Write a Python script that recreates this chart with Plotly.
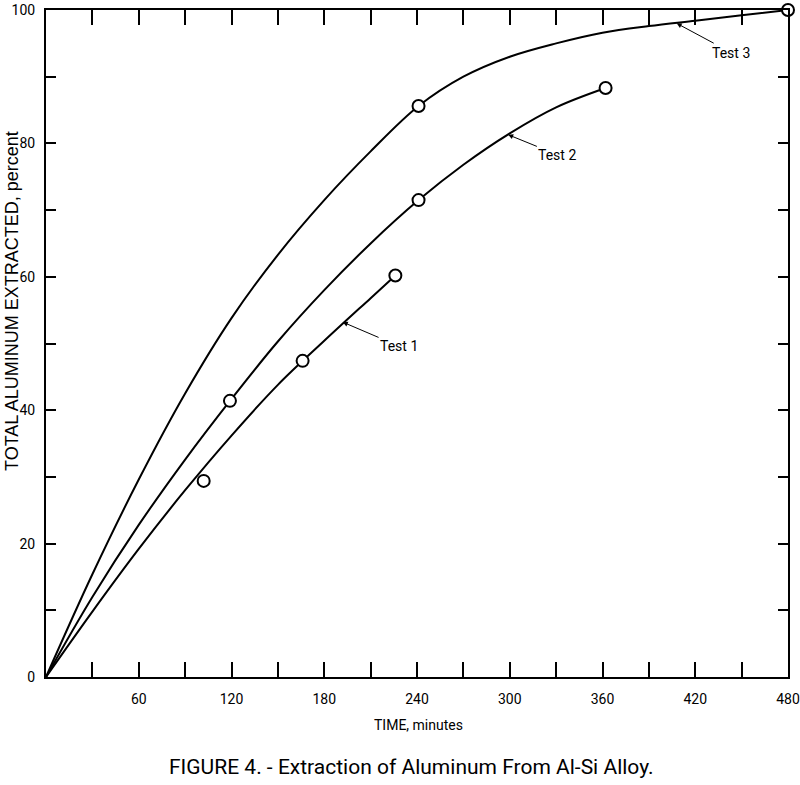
import plotly.graph_objects as go

# Measured circles (time, percent)
t1_pts_t = [102, 166, 226]
t1_pts_p = [29.4, 47.4, 60.2]
t2_pts_t = [119, 241, 362]
t2_pts_p = [41.4, 71.5, 88.3]
t3_pts_t = [241, 480]
t3_pts_p = [85.6, 100]

# Smooth curves
t1_curve_t = [0, 30, 60, 90, 120, 150, 180, 210, 226]
t1_curve_p = [0, 9.8, 19.2, 28.0, 36.2, 43.8, 50.4, 56.8, 60.2]
t2_curve_t = [0, 30, 60, 90, 119, 150, 180, 210, 241, 270, 300, 330, 362]
t2_curve_p = [0, 12.0, 22.8, 32.6, 41.4, 50.3, 58.0, 65.0, 71.5, 76.8, 81.5, 85.4, 88.3]
t3_curve_t = [0, 30, 60, 90, 120, 150, 180, 210, 241, 270, 300, 330, 360, 390, 420, 450, 480]
t3_curve_p = [0, 15.4, 29.6, 42.5, 53.8, 63.3, 71.5, 78.8, 85.6, 90.0, 93.0, 95.0, 96.6, 97.6, 98.4, 99.2, 100]

x_ticks = list(range(30, 481, 30))
x_labels = [str(v) if v % 60 == 0 else "" for v in x_ticks]
y_ticks = list(range(0, 101, 10))
y_labels = [str(v) if v % 20 == 0 else "" for v in y_ticks]

NARROW = "Roboto, Liberation Sans, sans-serif"

L, R, T, B = 46, 12, 10, 108
PW = 800 - L - R
PH = 785 - T - B

fig = go.Figure()
for ct, cp in [(t1_curve_t, t1_curve_p), (t2_curve_t, t2_curve_p), (t3_curve_t, t3_curve_p)]:
    fig.add_trace(go.Scatter(x=ct, y=cp, mode="lines", line=dict(color="black", width=2, shape="spline", smoothing=1.0),
                             hoverinfo="skip", showlegend=False))
for pt, pp in [(t1_pts_t, t1_pts_p), (t2_pts_t, t2_pts_p), (t3_pts_t, t3_pts_p)]:
    fig.add_trace(go.Scatter(x=pt, y=pp, mode="markers", cliponaxis=False,
                             marker=dict(symbol="circle", size=12, color="white", line=dict(color="black", width=2)),
                             showlegend=False))

labels = [("Test 1", 192, 53.2, 228.4, 49.6), ("Test 2", 299, 81.3, 330.8, 78.3), ("Test 3", 408, 98.0, 443.4, 93.6)]
for txt, hx, hy, tx, ty in labels:
    fig.add_annotation(x=hx, y=hy, ax=tx, ay=ty, axref="x", ayref="y", text=txt, showarrow=True,
                       arrowhead=2, arrowsize=1, arrowwidth=1, arrowcolor="black",
                       font=dict(family=NARROW, size=14, color="black"))

fig.add_annotation(xref="paper", yref="paper", x=(418 - L) / PW, y=-48 / PH, text="TIME, minutes",
                   showarrow=False, xanchor="center", yanchor="middle",
                   font=dict(family=NARROW, size=14, color="black"))
fig.add_annotation(xref="paper", yref="paper", x=(12 - L) / PW, y=(677 - 301) / PH,
                   text="TOTAL ALUMINUM EXTRACTED, percent", textangle=-90, showarrow=False,
                   xanchor="center", yanchor="middle",
                   font=dict(family="Liberation Sans, Arial, sans-serif", size=18, color="black"))
fig.add_annotation(xref="paper", yref="paper", x=(411 - L) / PW, y=-90 / PH,
                   text="FIGURE 4. - Extraction of Aluminum From Al-Si Alloy.", showarrow=False,
                   xanchor="center", yanchor="middle",
                   font=dict(family=NARROW, size=21, color="black"))

fig.update_layout(
    width=800, height=785, margin=dict(l=L, r=R, t=T, b=B, autoexpand=False),
    paper_bgcolor="white", plot_bgcolor="white",
    xaxis=dict(range=[0, 480], tickmode="array", tickvals=x_ticks, ticktext=x_labels,
               ticks="inside", ticklen=15, tickwidth=1.5, tickcolor="black",
               showline=True, linewidth=2, linecolor="black", mirror="ticks",
               showgrid=False, zeroline=False, ticklabelstandoff=8, ticklabeloverflow="allow",
               automargin=False,
               tickfont=dict(family=NARROW, size=14, color="black")),
    yaxis=dict(range=[0, 100], tickmode="array", tickvals=y_ticks, ticktext=y_labels,
               ticks="inside", ticklen=10, tickwidth=1.5, tickcolor="black",
               showline=True, linewidth=2, linecolor="black", mirror="ticks",
               showgrid=False, zeroline=False, ticklabelstandoff=6, automargin=False,
               tickfont=dict(family=NARROW, size=14, color="black")),
)

fig.write_html("out.html")
